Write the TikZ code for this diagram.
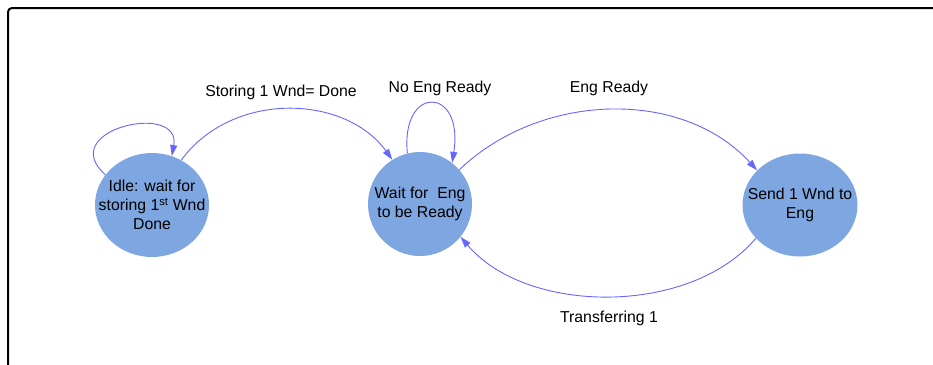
\documentclass[tikz,border=0pt]{standalone}
\usepackage{fontspec}
\setmainfont{Liberation Sans}
\usetikzlibrary{shapes.geometric,arrows.meta}
\definecolor{statefill}{RGB}{126,166,224}
\definecolor{edgecol}{RGB}{102,102,255}
\begin{document}
\begin{tikzpicture}[x=1pt,y=-1pt,
  state/.style={ellipse, fill=statefill, inner sep=0pt},
  statetext/.style={align=center, inner sep=0pt,
    font=\fontsize{15.8}{19}\selectfont},
  trans/.style={draw=edgecol, line width=0.9pt,
    -{Triangle[length=11pt,width=7pt]}},
  lbl/.style={font=\fontsize{15.8}{19}\selectfont, inner sep=0pt, anchor=base}]
\useasboundingbox (0,0) rectangle (933,364);
\clip (0,0) rectangle (933,364);
% outer frame
\draw[line width=2pt, rounded corners=4pt] (8,8) rectangle (980,400);

% states (shape and text kept apart so the text does not widen the ellipse)
\node[state, minimum width=114pt, minimum height=104pt] (idle) at (152,205) {};
\node[statetext] (idletxt) at (idle.center)
  {Idle: wait for\\storing 1\textsuperscript{st} Wnd\\Done};
\node[state, minimum width=104pt, minimum height=104pt] (wait) at (420,204) {};
\node[statetext] (waittxt) at (wait.center) {Wait for\ \ Eng\\to be Ready};
\node[state, minimum width=115pt, minimum height=103pt] (send) at (800,205) {};
\node[statetext] (sendtxt) at (send.center) {Send 1 Wnd to\\Eng};

% transitions
\draw[trans] (idle.147) .. controls +(-51,-45) and +(10,-55) .. (idle.68);
\draw[trans] (idle.57) .. controls +(52,-70) and +(-47,-65) .. (wait.122);
\draw[trans] (wait.104) .. controls +(-7,-69) and +(12,-77) .. (wait.52);
\draw[trans] (wait.41) .. controls +(80,-77) and +(-76,-83) .. (send.141);
\draw[trans] (send.217) .. controls +(-66,78) and +(66,78) .. (wait.321);

% labels
\node[lbl] (lstore) at (281,96) {Storing 1 Wnd= Done};
\node[lbl] (lnoeng) at (440,92) {No Eng Ready};
\node[lbl] (leng) at (609,92) {Eng Ready};
\node[lbl] (ltrans) at (609,322) {Transferring 1};
\end{tikzpicture}
\end{document}
